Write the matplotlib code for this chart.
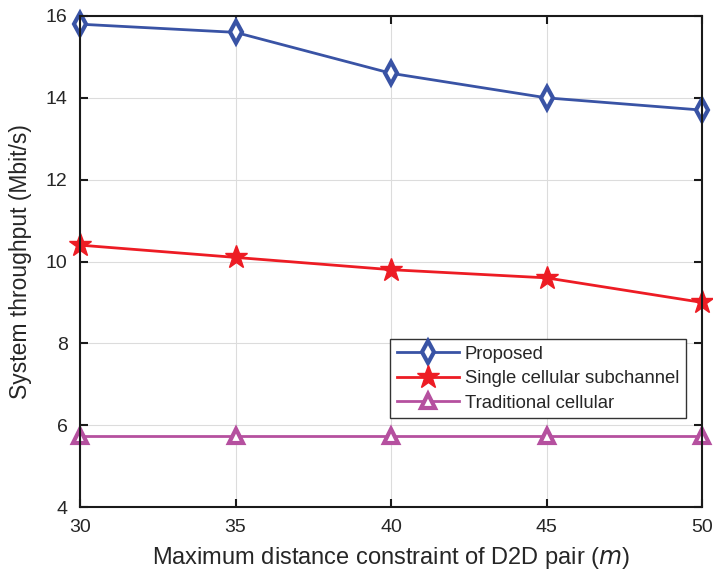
import numpy as np
import matplotlib.pyplot as plt

plt.rcParams['font.family'] = ['Liberation Sans', 'DejaVu Sans']
plt.rcParams['text.color'] = '#262626'
plt.rcParams['axes.labelcolor'] = '#262626'

distance = [30, 35, 40, 45, 50]
proposed = [15.8, 15.6, 14.6, 14.0, 13.7]
single_sub = [10.4, 10.1, 9.8, 9.6, 9.0]
traditional = [5.73, 5.73, 5.73, 5.73, 5.73]

fig = plt.figure(figsize=(7.13, 5.73), dpi=100)
ax = fig.add_axes([80/713, 1 - 507/573, 622/713, 491/573])

ax.plot(distance, proposed, '-d', color='#3953a5', lw=2, ms=11, mew=3,
        mfc='white', label='Proposed')
ax.plot(distance, single_sub, '-*', color='#ed1c24', lw=2, ms=17, mew=1,
        label='Single cellular subchannel')
ax.plot(distance, traditional, '-^', color='#b5509f', lw=2, ms=10, mew=3,
        mfc='white', label='Traditional cellular')

ax.set_xlim(30, 50)
ax.set_ylim(4, 16)
ax.set_xticks([30, 35, 40, 45, 50])
ax.set_yticks([4, 6, 8, 10, 12, 14, 16])
ax.grid(True, color='#dcdcdc', lw=0.8)
ax.tick_params(direction='in', labelsize=14, length=6, width=1.5, pad=9,
               top=True, right=True, colors='#1a1a1a', labelcolor='#262626')
for s in ax.spines.values():
    s.set_linewidth(1.5)
    s.set_color('#1a1a1a')
ax.set_xlabel('Maximum distance constraint of D2D pair ($m$)', fontsize=17, labelpad=6)
ax.set_ylabel('System throughput (Mbit/s)', fontsize=16.5, labelpad=10)
for c in ax.get_lines():
    c.set_clip_on(False)

leg = ax.legend(loc='lower right', bbox_to_anchor=(0.974, 0.181), fontsize=13.3,
                fancybox=False, edgecolor='#333333', framealpha=1,
                handlelength=3.4, borderpad=0.35, labelspacing=0.4,
                handletextpad=0.3, borderaxespad=0)
leg.get_frame().set_linewidth(1.0)

fig.savefig('out.png', dpi=100)
